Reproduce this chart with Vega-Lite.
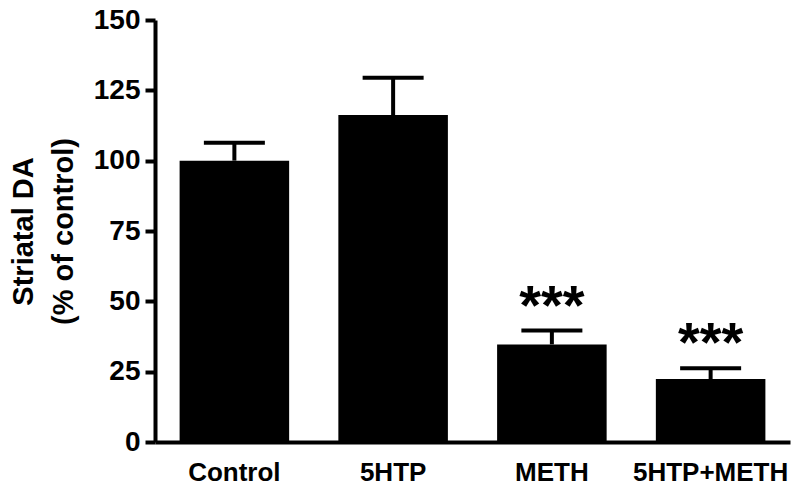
{
  "$schema": "https://vega.github.io/schema/vega-lite/v6.json",
  "autosize": {"type": "none"},
  "width": 635,
  "height": 422,
  "padding": {"left": 155, "top": 20, "right": 10, "bottom": 47},
  "background": "white",
  "data": {
    "values": [
      {"group": "Control", "mean": 100, "upper": 106.4, "sig": ""},
      {"group": "5HTP", "mean": 116.2, "upper": 129.5, "sig": ""},
      {"group": "METH", "mean": 34.7, "upper": 39.6, "sig": "***"},
      {"group": "5HTP+METH", "mean": 22.4, "upper": 26.2, "sig": "***"}
    ]
  },
  "encoding": {
    "x": {
      "field": "group",
      "type": "nominal",
      "sort": null,
      "scale": {"paddingInner": 0.31, "paddingOuter": 0.155},
      "axis": {
        "title": null,
        "labelAngle": 0,
        "ticks": false,
        "labelPadding": 17,
        "labelFont": "Liberation Sans",
        "labelFontWeight": "bold",
        "labelFontSize": 26,
        "labelColor": "black",
        "domainColor": "black",
        "domainWidth": 4
      }
    }
  },
  "layer": [
    {
      "mark": {"type": "bar", "color": "black"},
      "encoding": {
        "y": {
          "field": "mean",
          "type": "quantitative",
          "scale": {"domain": [0, 150], "nice": false},
          "axis": {
            "values": [0, 25, 50, 75, 100, 125, 150],
            "grid": false,
            "title": ["Striatal DA", "(% of control)"],
            "titleFont": "Liberation Sans",
            "titleFontWeight": "bold",
            "titleFontSize": 29,
            "titleLineHeight": 40,
            "titleColor": "black",
            "titlePadding": 15,
            "labelFont": "Liberation Sans",
            "labelFontWeight": "bold",
            "labelFontSize": 28,
            "labelColor": "black",
            "labelPadding": 5,
            "tickSize": 10,
            "tickWidth": 4,
            "tickColor": "black",
            "domainColor": "black",
            "domainWidth": 4
          }
        }
      }
    },
    {
      "mark": {"type": "rule", "color": "black", "strokeWidth": 4, "opacity": 1},
      "encoding": {
        "y": {"field": "mean", "type": "quantitative"},
        "y2": {"field": "upper"}
      }
    },
    {
      "mark": {"type": "tick", "color": "black", "thickness": 4, "size": 61, "opacity": 1},
      "encoding": {
        "y": {"field": "upper", "type": "quantitative"}
      }
    },
    {
      "mark": {"type": "text", "font": "Liberation Sans", "fontWeight": "bold", "fontSize": 56, "baseline": "alphabetic", "dy": -7, "color": "black"},
      "encoding": {
        "y": {"field": "upper", "type": "quantitative"},
        "text": {"field": "sig"}
      }
    }
  ],
  "config": {"view": {"stroke": null}}
}
